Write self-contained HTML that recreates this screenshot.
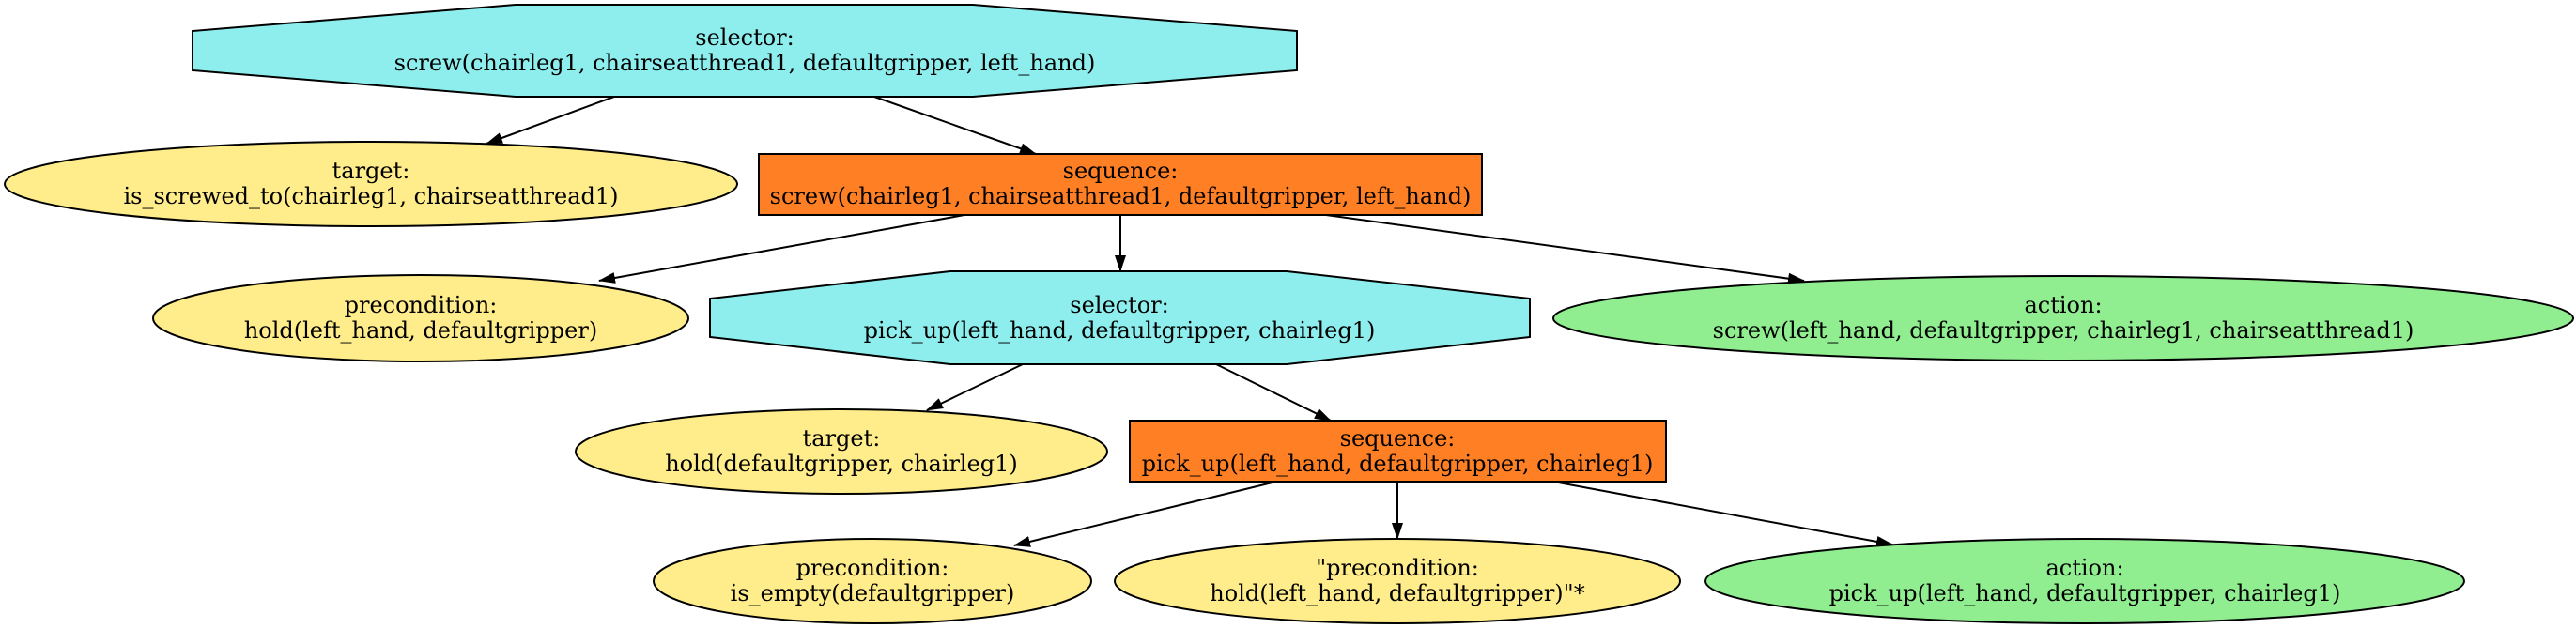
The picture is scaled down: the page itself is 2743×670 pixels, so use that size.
<!DOCTYPE html>
<html><head><meta charset="utf-8"><style>html,body{margin:0;padding:0;background:#fff}svg{display:block}</style></head>
<body>
<svg width="2743" height="670" viewBox="0 0 2743 670" xmlns="http://www.w3.org/2000/svg" font-family="'DejaVu Serif', serif" font-size="24" text-anchor="middle">
<defs>
<marker id="b" markerWidth="18" markerHeight="12" refX="17" refY="6" orient="auto" markerUnits="userSpaceOnUse"><path d="M0,0 L18,6 L0,12 z" fill="#000"/></marker></defs>
<g stroke="#000" stroke-width="2" fill="none">
<line x1="654" y1="103" x2="518" y2="153" marker-end="url(#b)"/>
<line x1="931" y1="103" x2="1103" y2="164" marker-end="url(#b)"/>
<line x1="1027" y1="229" x2="638" y2="299" marker-end="url(#b)"/>
<line x1="1193" y1="229" x2="1193" y2="289" marker-end="url(#b)"/>
<line x1="1412" y1="229" x2="1921" y2="299" marker-end="url(#b)"/>
<line x1="1089" y1="388" x2="987" y2="437" marker-end="url(#b)"/>
<line x1="1295" y1="388" x2="1417" y2="448" marker-end="url(#b)"/>
<line x1="1359" y1="513" x2="1080" y2="581" marker-end="url(#b)"/>
<line x1="1488" y1="513" x2="1488" y2="574" marker-end="url(#b)"/>
<line x1="1654" y1="513" x2="2015" y2="580" marker-end="url(#b)"/>
</g>
<g stroke="#000" stroke-width="2">
<polygon points="549,5 1036,5 1381,33 1381,75 1036,103 549,103 205,75 205,33" fill="#8eeeee"/>
<ellipse cx="395" cy="196" rx="390" ry="45" fill="#ffec8b"/>
<rect x="808" y="164" width="770" height="65" fill="#ff7f24"/>
<ellipse cx="448" cy="339" rx="285" ry="46" fill="#ffec8b"/>
<polygon points="1012,289 1370,289 1629,318 1629,359 1370,388 1012,388 756,359 756,318" fill="#8eeeee"/>
<ellipse cx="2197" cy="339" rx="543" ry="45" fill="#90ee90"/>
<ellipse cx="896" cy="481" rx="283" ry="45" fill="#ffec8b"/>
<rect x="1203" y="448" width="571" height="65" fill="#ff7f24"/>
<ellipse cx="929" cy="619" rx="233" ry="45" fill="#ffec8b"/>
<ellipse cx="1488" cy="619" rx="301" ry="45" fill="#ffec8b"/>
<ellipse cx="2220" cy="619" rx="404" ry="45" fill="#90ee90"/>
</g>
<g fill="#000">
<text x="793" y="48">selector:</text><text x="793" y="75">screw(chairleg1, chairseatthread1, defaultgripper, left_hand)</text>
<text x="395" y="190">target:</text><text x="395" y="217">is_screwed_to(chairleg1, chairseatthread1)</text>
<text x="1193" y="190">sequence:</text><text x="1193" y="217">screw(chairleg1, chairseatthread1, defaultgripper, left_hand)</text>
<text x="448" y="333">precondition:</text><text x="448" y="360">hold(left_hand, defaultgripper)</text>
<text x="1192" y="333">selector:</text><text x="1192" y="360">pick_up(left_hand, defaultgripper, chairleg1)</text>
<text x="2197" y="333">action:</text><text x="2197" y="360">screw(left_hand, defaultgripper, chairleg1, chairseatthread1)</text>
<text x="896" y="475">target:</text><text x="896" y="502">hold(defaultgripper, chairleg1)</text>
<text x="1488" y="475">sequence:</text><text x="1488" y="502">pick_up(left_hand, defaultgripper, chairleg1)</text>
<text x="929" y="613">precondition:</text><text x="929" y="640">is_empty(defaultgripper)</text>
<text x="1488" y="613">"precondition:</text><text x="1488" y="640">hold(left_hand, defaultgripper)"*</text>
<text x="2220" y="613">action:</text><text x="2220" y="640">pick_up(left_hand, defaultgripper, chairleg1)</text>
</g>
</svg>
</body></html>
